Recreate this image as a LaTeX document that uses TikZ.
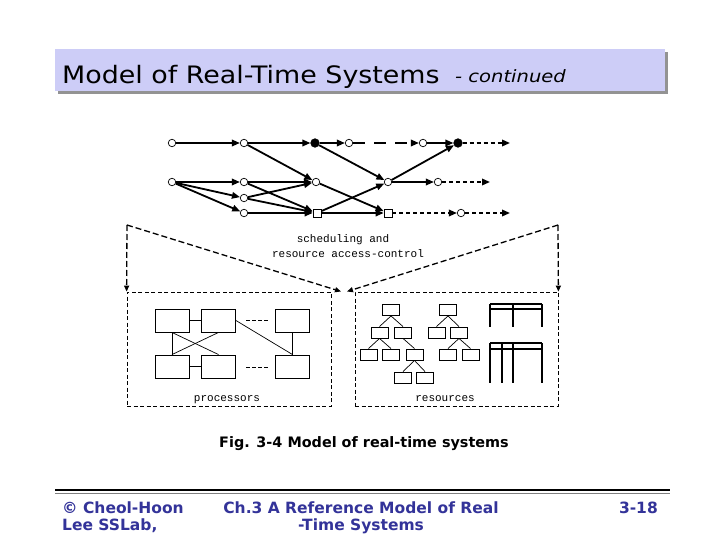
\documentclass[tikz,border=0pt]{standalone}
\usepackage{fontspec}
\setmainfont{DejaVu Sans}
\newfontfamily\monof{Liberation Mono}
\usetikzlibrary{arrows.meta,calc}
\definecolor{titlebg}{HTML}{CDCDF7}
\definecolor{footblue}{HTML}{333399}
\begin{document}
\begin{tikzpicture}[x=1pt,y=-1pt,
 cn/.style={circle,draw,fill=white,line width=0.7pt,inner sep=0,minimum size=7.5pt},
 fn/.style={circle,draw,fill=black,line width=0.7pt,inner sep=0,minimum size=8.5pt},
 sq/.style={rectangle,draw,fill=white,line width=0.7pt,inner sep=0,minimum size=8pt},
 ed/.style={line width=1.8pt,-{Triangle[length=8pt,width=6.5pt]}},
 ded/.style={ed,dash pattern=on 4pt off 3pt},
 ldd/.style={ed,dash pattern=on 12pt off 9pt},
 vd/.style={line width=1.3pt,dash pattern=on 6pt off 3pt,-{Triangle[length=6pt,width=5pt]}},
 bd/.style={line width=0.8pt,dash pattern=on 4pt off 2.5pt},
 pb/.style={rectangle,draw,line width=0.9pt,minimum width=34pt,minimum height=23pt,inner sep=0},
 rb/.style={rectangle,draw,line width=0.9pt,minimum width=17pt,minimum height=11pt,inner sep=0},
 ln/.style={line width=0.7pt},
 tl/.style={line width=1.5pt},
 lbl/.style={font=\monof\fontsize{11}{13}\selectfont},
 foot/.style={font=\bfseries\fontsize{15.5}{18}\selectfont,text=footblue,inner sep=0},
]
\useasboundingbox (0,0) rectangle (720,540);
% title bar
\fill[gray!85] (58,52) rectangle (668,94);
\fill[titlebg] (55,49) rectangle (665,91);
\node[anchor=base west,inner sep=0,font=\fontsize{24}{28}\selectfont] (title) at (62,84) {\scalebox{1.12}[1]{Model of Real-Time Systems}};
\node[anchor=base west,inner sep=0,font=\fontsize{17}{20}\selectfont\itshape] (cont) at (455,83) {\scalebox{1.15}[1]{- continued}};

% task graph nodes
\node[cn] (A1) at (172,143) {};
\node[cn] (A2) at (244,143) {};
\node[fn] (A3) at (315,143) {};
\node[cn] (A4) at (349,143) {};
\node[cn] (A5) at (423,143) {};
\node[fn] (A6) at (458,143) {};
\node[cn] (B1) at (172,182) {};
\node[cn] (B2) at (244,182) {};
\node[cn] (B3) at (316,182) {};
\node[cn] (B4) at (388,182) {};
\node[cn] (B5) at (438,182) {};
\node[cn] (C)  at (244,198) {};
\node[cn] (D2) at (244,213) {};
\node[sq] (D3) at (317,213) {};
\node[sq] (D4) at (388,213) {};
\node[cn] (D5) at (461,213) {};
\coordinate (E1) at (510,143);
\coordinate (E2) at (490,182);
\coordinate (E3) at (510,213);

\draw[ed] (A1) -- (A2);
\draw[ed] (A2) -- (A3);
\draw[ed] (A2) -- (B3);
\draw[ed] (A3) -- (A4);
\draw[ldd] (A4) -- (A5);
\draw[ed] (A5) -- (A6);
\draw[ded] (A6) -- (E1);
\draw[ed] (A3) -- (B4);
\draw[ed] (B1) -- (B2);
\draw[ed] (B1) -- (C);
\draw[ed] (B1) -- (D2);
\draw[ed] (B2) -- (B3);
\draw[ed] (B2) -- (D3);
\draw[ed] (C) -- (B3);
\draw[ed] (C) -- (D3);
\draw[ed] (D2) -- (D3);
\draw[ed] (B3) -- (D4);
\draw[ed] (D3) -- (B4);
\draw[ed] (D3) -- (D4);
\draw[ed] (B4) -- (A6);
\draw[ed] (B4) -- (B5);
\draw[ded] (B5) -- (E2);
\draw[ded] (D4) -- (D5);
\draw[ded] (D5) -- (E3);

% scheduling label and V
\node[lbl,anchor=base] (sch1) at (343,242) {scheduling and};
\node[lbl,anchor=base] (sch2) at (348,257) {resource access-control};
\node[rectangle,draw,bd,minimum width=204pt,minimum height=114pt,inner sep=0] (procbox) at (229,349) {};
\node[rectangle,draw,bd,minimum width=203pt,minimum height=114pt,inner sep=0] (resbox) at (456.5,349) {};
\coordinate (VL) at (127,225);
\coordinate (VR) at (558,225);
\coordinate (TL) at (341,291.5);
\coordinate (TR) at (347,291.5);
\draw[vd] (VL) -- (TL);
\draw[vd] (VR) -- (TR);
\draw[vd] (VL) -- (procbox.north west);
\draw[vd] (VR) -- (resbox.north east);

% processors
\node[pb] (p1) at (172,320.5) {};
\node[pb] (p2) at (218.5,320.5) {};
\node[pb] (p3) at (292.5,320.5) {};
\node[pb] (p4) at (172,366.5) {};
\node[pb] (p5) at (218.5,366.5) {};
\node[pb] (p6) at (292.5,366.5) {};
\draw[ln] (p1) -- (p2);
\draw[ln] (p4) -- (p5);
\draw[ln] (p1.south) -- (p4.north);
\draw[ln] (p1.south) -- (p5.north);
\draw[ln] (p2.south) -- (p4.north);
\draw[ln] (p2.east) -- (p6.north);
\draw[ln] (p3.south) -- (p6.north);
\draw[ln,dash pattern=on 4pt off 2pt] (246,320) -- (268,320);
\draw[ln,dash pattern=on 4pt off 2pt] (246,367) -- (268,367);
\node[lbl,anchor=base] (plbl) at (227,401) {processors};

% resources
\node[rb] (R1) at (391,310) {};
\node[rb] (R2) at (379.5,332.5) {};
\node[rb] (R3) at (403,332.5) {};
\node[rb] (R4) at (368.5,354.5) {};
\node[rb] (R5) at (391,354.5) {};
\node[rb] (R6) at (414.5,354.5) {};
\node[rb] (R7) at (403,377.5) {};
\node[rb] (R8) at (425,377.5) {};
\node[rb] (S1) at (448,310) {};
\node[rb] (S2) at (436.5,332.5) {};
\node[rb] (S3) at (459,332.5) {};
\node[rb] (S4) at (448,354.5) {};
\node[rb] (S5) at (470.5,354.5) {};
\draw[ln] (R1.south) -- (R2.north);
\draw[ln] (R1.south) -- (R3.north);
\draw[ln] (R2.south) -- (R4.north);
\draw[ln] (R2.south) -- (R5.north);
\draw[ln] (R3.south) -- (R6.north);
\draw[ln] (R6.south) -- (R7.north);
\draw[ln] (R6.south) -- (R8.north);
\draw[ln] (S1.south) -- (S2.north);
\draw[ln] (S1.south) -- (S3.north);
\draw[ln] (S3.south) -- (S4.north);
\draw[ln] (S3.south) -- (S5.north);
% tables
\draw[tl] (490,304) -- (542,304);
\draw[tl] (490,309) -- (542,309);
\draw[tl] (490,304) -- (490,327);
\draw[tl] (513,304) -- (513,327);
\draw[tl] (542,304) -- (542,327);
\draw[tl] (490,343) -- (542,343);
\draw[tl] (490,349) -- (542,349);
\draw[tl] (490,343) -- (490,383);
\draw[tl] (502,343) -- (502,383);
\draw[tl] (513,343) -- (513,383);
\draw[tl] (542,343) -- (542,383);
\node[lbl,anchor=base] (rlbl) at (445,401) {resources};

% caption
\node[anchor=base,inner sep=0,font=\bfseries\fontsize{14.4}{17}\selectfont] (cap) at (364,447) {Fig. 3-4 Model of real-time systems};

% footer
\draw[line width=1.5pt] (55,490) -- (670,490);
\draw[line width=0.6pt,gray] (55,493.5) -- (670,493.5);
\node[foot,anchor=base west] (f1) at (62,513) {© Cheol-Hoon};
\node[foot,anchor=base west] (f2) at (62,530) {Lee SSLab,};
\node[foot,anchor=base] (f3) at (361,513) {Ch.3 A Reference Model of Real};
\node[foot,anchor=base] (f4) at (361,530) {-Time Systems};
\node[foot,anchor=base east] (f5) at (658,513) {3-18};
\end{tikzpicture}
\end{document}
